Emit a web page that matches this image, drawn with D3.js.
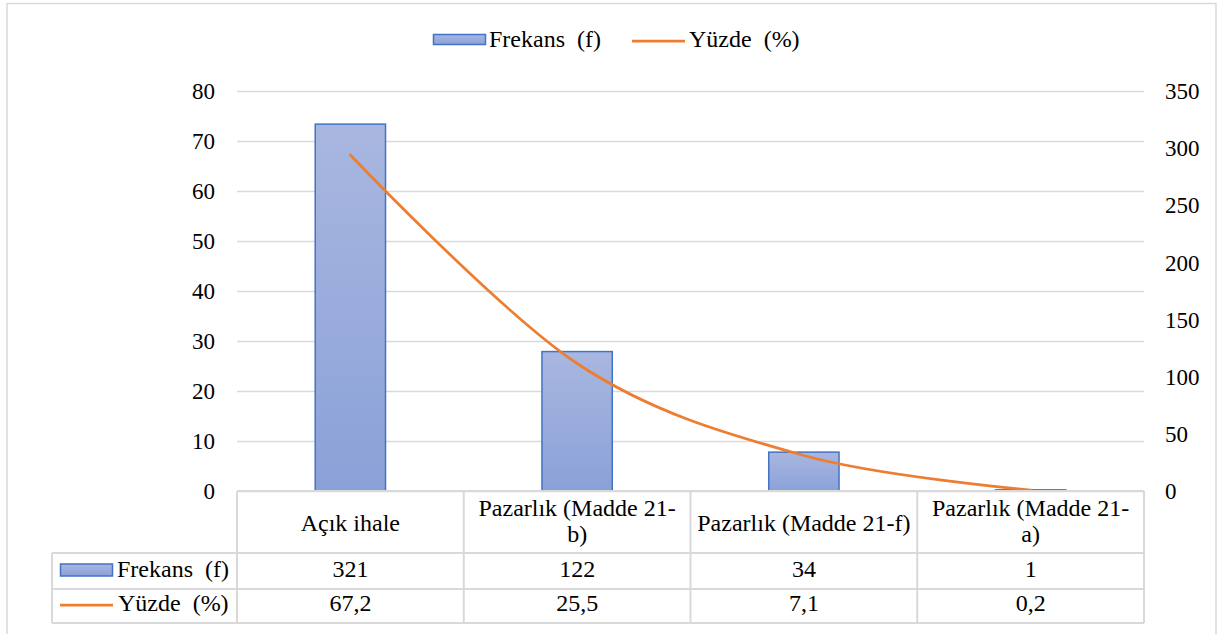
<!DOCTYPE html>
<html>
<head>
<meta charset="utf-8">
<script src="https://cdn.jsdelivr.net/npm/d3@7/dist/d3.min.js"></script>
<style>
  html, body { margin: 0; padding: 0; background: #fff; }
</style>
</head>
<body>
<div id="chart"></div>
<script>
// Dades
const categories = ["Açık ihale", "Pazarlık (Madde 21-b)", "Pazarlık (Madde 21-f)", "Pazarlık (Madde 21-a)"];
const categoryLines = [["Açık ihale"], ["Pazarlık (Madde 21-", "b)"], ["Pazarlık (Madde 21-f)"], ["Pazarlık (Madde 21-", "a)"]];
const frekans = [321, 122, 34, 1];
const yuzde = [67.2, 25.5, 7.1, 0.2];
const leftTicks = [0, 10, 20, 30, 40, 50, 60, 70, 80];
const rightTicks = [0, 50, 100, 150, 200, 250, 300, 350];
const seriesNames = ["Frekans  (f)", "Yüzde  (%)"];

const width = 1217, height = 634;
const margin = { top: 91, right: 73, bottom: 143, left: 237 };
const plotBottom = height - margin.bottom;
const fontSize = "24px";
const tickSize = "23px";
const fontFam = "Liberation Serif, Times New Roman, serif";

const svg = d3.select("#chart").append("svg")
  .attr("width", width)
  .attr("height", height);

// Estil de text comú
function txt(sel, size = fontSize) {
  return sel.attr("font-family", fontFam).attr("font-size", size)
    .attr("fill", "#000").style("white-space", "pre");
}

const defs = svg.append("defs");
const grad = defs.append("linearGradient")
  .attr("id", "barGrad").attr("x1", 0).attr("y1", 0).attr("x2", 0).attr("y2", 1);
grad.append("stop").attr("offset", "0%").attr("stop-color", "#a9b7e0");
grad.append("stop").attr("offset", "100%").attr("stop-color", "#8aa1d8");

// Marc exterior
svg.append("rect")
  .attr("x", 7).attr("y", 3.5)
  .attr("width", 1209).attr("height", 640)
  .attr("fill", "none").attr("stroke", "#d9d9d9").attr("stroke-width", 1.5);

const x = d3.scaleBand()
  .domain(categories)
  .range([margin.left, width - margin.right]);

const yLeft = d3.scaleLinear().domain([0, 80]).range([plotBottom, margin.top]);
const yRight = d3.scaleLinear().domain([0, 350]).range([plotBottom, margin.top]);

// Graella
svg.append("g")
  .attr("transform", `translate(${margin.left},0)`)
  .call(d3.axisLeft(yLeft).tickValues(leftTicks).tickSize(-(width - margin.left - margin.right)).tickFormat(""))
  .call(g => g.select(".domain").remove())
  .call(g => g.selectAll("line").attr("stroke", "#d9d9d9").attr("stroke-width", 1.5));

// Eix esquerre
svg.append("g")
  .attr("transform", `translate(${margin.left - 22},0)`)
  .call(d3.axisLeft(yLeft).tickValues(leftTicks).tickSize(0).tickPadding(0))
  .call(g => g.select(".domain").remove())
  .call(g => g.attr("font-family", null).attr("font-size", null))
  .call(g => txt(g.selectAll("text"), tickSize).attr("dy", "0.33em"));

// Eix dret
svg.append("g")
  .attr("transform", `translate(${width - margin.right + 21},0)`)
  .call(d3.axisRight(yRight).tickValues(rightTicks).tickSize(0).tickPadding(0))
  .call(g => g.select(".domain").remove())
  .call(g => g.attr("font-family", null).attr("font-size", null))
  .call(g => txt(g.selectAll("text"), tickSize).attr("dy", "0.33em"));

// Barres (eix dret)
const barW = x.bandwidth() * 0.31;
svg.append("g").selectAll("rect")
  .data(frekans)
  .join("rect")
  .attr("x", (d, i) => x(categories[i]) + (x.bandwidth() - barW) / 2)
  .attr("y", d => yRight(d))
  .attr("width", barW)
  .attr("height", d => plotBottom - yRight(d))
  .attr("fill", "url(#barGrad)")
  .attr("stroke", "#4472c4")
  .attr("stroke-width", 1.5);

// Línia (eix esquerre)
const line = d3.line()
  .x((d, i) => x(categories[i]) + x.bandwidth() / 2)
  .y(d => yLeft(d))
  .curve(d3.curveCardinal.tension(0));

svg.append("path")
  .datum(yuzde)
  .attr("fill", "none")
  .attr("stroke", "#ed7d31")
  .attr("stroke-width", 2.75)
  .attr("stroke-linecap", "round")
  .attr("d", line);

// Llegenda superior
const leg = svg.append("g");
leg.append("rect").attr("x", 433.5).attr("y", 34.5).attr("width", 52).attr("height", 10)
  .attr("fill", "url(#barGrad)").attr("stroke", "#4472c4").attr("stroke-width", 1.5);
txt(leg.append("text").attr("x", 489).attr("y", 47)).text(seriesNames[0]);
leg.append("line").attr("x1", 632).attr("x2", 685).attr("y1", 41).attr("y2", 41)
  .attr("stroke", "#ed7d31").attr("stroke-width", 2.75);
txt(leg.append("text").attr("x", 689).attr("y", 47)).text(seriesNames[1]);

// Taula de dades
const tableLeft = 52;
const rowTops = [plotBottom, 553, 589, 623];
const tbl = svg.append("g").attr("stroke", "#d9d9d9").attr("stroke-width", 2);
tbl.append("line").attr("x1", margin.left).attr("x2", width - margin.right).attr("y1", rowTops[0]).attr("y2", rowTops[0]);
[1, 2, 3].forEach(r => {
  tbl.append("line").attr("x1", tableLeft).attr("x2", width - margin.right)
    .attr("y1", rowTops[r]).attr("y2", rowTops[r]);
});
tbl.append("line").attr("x1", tableLeft).attr("x2", tableLeft).attr("y1", rowTops[1]).attr("y2", rowTops[3]);
const colEdges = categories.map(c => x(c)).concat([width - margin.right]);
colEdges.forEach(cx => {
  tbl.append("line").attr("x1", cx).attr("x2", cx).attr("y1", rowTops[0]).attr("y2", rowTops[3]);
});

// etiquetes de categoria
categoryLines.forEach((lines, i) => {
  const cx = x(categories[i]) + x.bandwidth() / 2;
  const t = txt(svg.append("text").attr("text-anchor", "middle"));
  const startY = lines.length === 1 ? 531 : 516;
  lines.forEach((l, j) => {
    t.append("tspan").attr("x", cx).attr("y", startY + j * 26).text(l);
  });
});

const fmtPct = d3.formatLocale({ decimal: ",", thousands: ".", grouping: [3], currency: ["", ""] }).format(".1f");

txt(svg.append("g").selectAll("text")
  .data(frekans)
  .join("text")
  .attr("x", (d, i) => x(categories[i]) + x.bandwidth() / 2)
  .attr("y", 577)
  .attr("text-anchor", "middle"))
  .text(d => d);

txt(svg.append("g").selectAll("text")
  .data(yuzde)
  .join("text")
  .attr("x", (d, i) => x(categories[i]) + x.bandwidth() / 2)
  .attr("y", 611)
  .attr("text-anchor", "middle"))
  .text(d => fmtPct(d));

// llegenda de la taula
svg.append("rect").attr("x", 60.5).attr("y", 564).attr("width", 52).attr("height", 12)
  .attr("fill", "url(#barGrad)").attr("stroke", "#4472c4").attr("stroke-width", 1.5);
txt(svg.append("text").attr("x", 117).attr("y", 577)).text(seriesNames[0]);
svg.append("line").attr("x1", 60).attr("x2", 113).attr("y1", 605).attr("y2", 605)
  .attr("stroke", "#ed7d31").attr("stroke-width", 2.75);
txt(svg.append("text").attr("x", 118).attr("y", 611)).text(seriesNames[1]);
</script>
</body>
</html>
